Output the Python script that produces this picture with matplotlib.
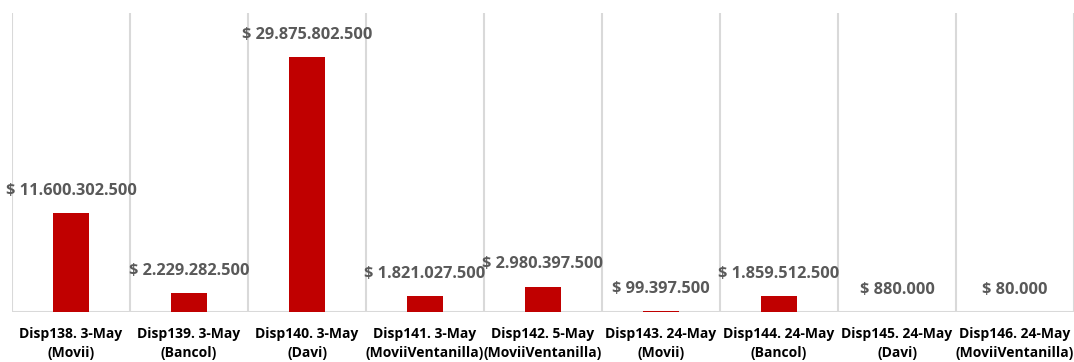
import matplotlib
matplotlib.use("Agg")
import matplotlib.pyplot as plt

# disbursement amounts per batch (COP)
categories = ["Disp138. 3-May\n(Movii)", "Disp139. 3-May\n(Bancol)", "Disp140. 3-May\n(Davi)",
              "Disp141. 3-May\n(MoviiVentanilla)", "Disp142. 5-May\n(MoviiVentanilla)",
              "Disp143. 24-May\n(Movii)", "Disp144. 24-May\n(Bancol)", "Disp145. 24-May\n(Davi)",
              "Disp146. 24-May\n(MoviiVentanilla)"]
amounts = [11600302500, 2229282500, 29875802500, 1821027500, 2980397500,
           99397500, 1859512500, 880000, 80000]

def money(v):
    return "$ " + f"{v:,}".replace(",", ".")

plt.rcParams["font.family"] = ["Open Sans", "DejaVu Sans"]
fig = plt.figure(figsize=(10.74, 3.62), dpi=100)
ax = fig.add_axes([12/1074, 50/362, 1062/1074, 299/362])

x = range(len(amounts))
ax.bar(x, amounts, width=0.31, color="#C00000", zorder=3)
for i, v in enumerate(amounts):
    ax.annotate(money(v), (i, v), xytext=(0, 16), textcoords="offset points",
                ha="center", va="center", fontsize=11.8, fontweight="bold", color="#595959")

ax.set_xlim(-0.5, len(amounts) - 0.5)
ax.set_ylim(0, 35e9)
for b in range(len(amounts) + 1):
    ax.axvline(b - 0.5, color="#D9D9D9", lw=1.5, zorder=1)
ax.axhline(0, color="#D9D9D9", lw=1.5, zorder=2)
for s in ax.spines.values():
    s.set_visible(False)
ax.set_yticks([])
ax.set_xticks(list(x))
ax.set_xticklabels(categories, fontsize=10, fontweight="bold", color="black", linespacing=1.4)
ax.tick_params(axis="x", length=0, pad=11)

fig.savefig("out.png", dpi=100)
